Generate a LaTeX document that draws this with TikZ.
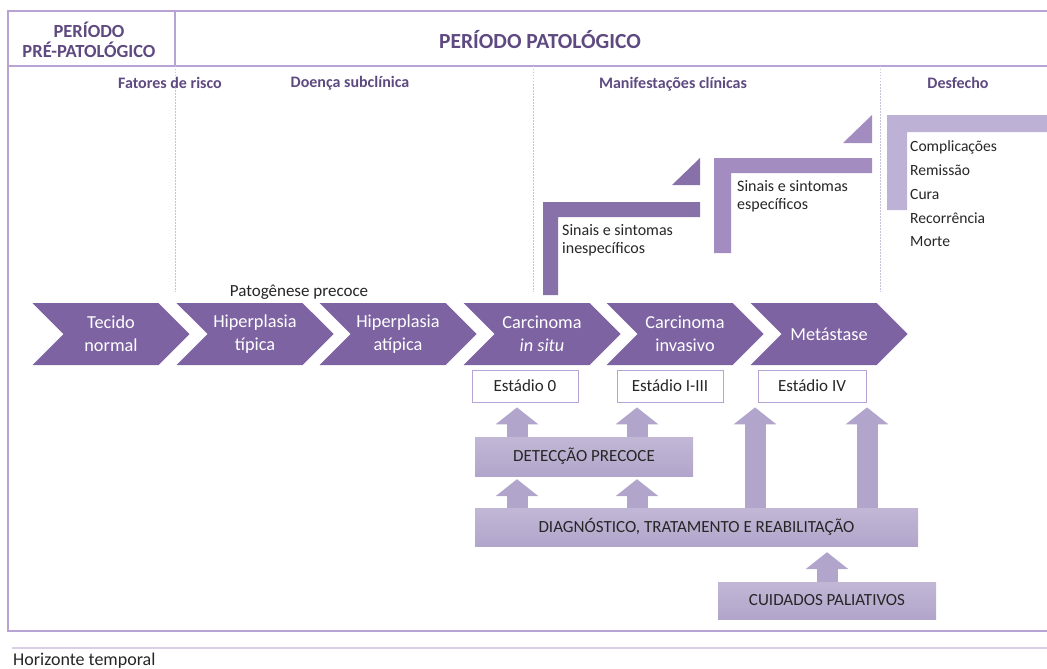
\documentclass[tikz,border=0pt]{standalone}
\usepackage{fontspec}
\setmainfont{Carlito}
\usetikzlibrary{arrows.meta,positioning,shapes.symbols}
\definecolor{PATline}{HTML}{B7A4D4}
\definecolor{PATpale}{HTML}{D9CFE6}
\definecolor{PATdot}{HTML}{C9C0D9}
\definecolor{PATtitle}{HTML}{5E4A80}
\definecolor{PATchev}{HTML}{7D63A2}
\definecolor{PATstepA}{HTML}{8870A9}
\definecolor{PATstepB}{HTML}{A28CC0}
\definecolor{PATstepC}{HTML}{BEB1D6}
\definecolor{PATblock}{HTML}{B2A5CB}
\definecolor{PATtext}{HTML}{262626}
\tikzset{patframe/.style={draw=PATline,line width=1.3pt},
 patdots/.style={draw=PATdot,line width=0.8pt,dash pattern=on 1.5pt off 1.5pt},
 pathead/.style={text=PATtitle,font=\bfseries\fontsize{18.5}{20.5}\selectfont,align=center},
 patsub/.style={text=PATtitle,font=\bfseries\fontsize{16}{19}\selectfont},
 patchev/.style={shape=signal,signal from=west,signal to=east,fill=PATchev,text=white,
  minimum width=157pt,minimum height=62pt,inner sep=0pt,align=center,
  font=\fontsize{18.3}{23}\selectfont},
 patstage/.style={draw=PATline,fill=white,line width=0.8pt,minimum width=106pt,
  minimum height=32pt,inner sep=0pt,font=\fontsize{17}{19}\selectfont,text=PATtext},
 patblock/.style={top color=PATblock!80!white,bottom color=PATblock,inner sep=0pt,
  font=\fontsize{17}{19}\selectfont,text=PATtext},
 patlabel/.style={text=PATtext,font=\fontsize{16}{18}\selectfont,align=left,inner sep=0pt},
 patup/.style={draw=PATblock,line width=21pt,-{Triangle[length=17pt,width=42pt]}}}

\begin{document}
\begin{tikzpicture}[x=1pt,y=-1pt]
\useasboundingbox (0,0) rectangle (1047,669);
\draw[patframe] (1047,11) -- (8,11) -- (8,631) -- (1047,631);
\draw[patframe] (8,66) -- (1047,66);
\draw[patframe] (175,11) -- (175,66);
\draw[patframe,draw=PATpale] (12,648) -- (1047,648);
\draw[patdots] (175,66) -- (175,292);
\draw[patdots] (533,66) -- (533,292);
\draw[patdots] (880,66) -- (880,292);

\node[pathead] (prepat) at (89,40) {PERÍODO\\PRÉ-PATOLÓGICO};
\node[pathead,font=\bfseries\fontsize{21.5}{24}\selectfont] (pat) at (540,40) {PERÍODO PATOLÓGICO};
\node[patsub] (risco) at (170,83) {Fatores de risco};
\node[patsub] (subcl) at (350,83) {Doença subclínica};
\node[patsub] (manif) at (673,84) {Manifestações clínicas};
\node[patsub] (desf) at (958,83) {Desfecho};

\fill[PATstepA] (543,202) -- (700,202) -- (700,217) -- (558,217) -- (558,295) -- (543,295) -- cycle;
\fill[PATstepA] (700,158) -- (700,185) -- (672,185) -- cycle;
\fill[PATstepB] (714,158) -- (872,158) -- (872,173) -- (731,173) -- (731,253) -- (714,253) -- cycle;
\fill[PATstepB] (872,115) -- (872,143) -- (843,143) -- cycle;
\fill[PATstepC] (887,115) -- (1047,115) -- (1047,132) -- (907,132) -- (907,210) -- (887,210) -- cycle;
\node[patlabel,anchor=west] (inesp) at (562,240) {Sinais e sintomas\\inespecíficos};
\node[patlabel,anchor=west] (espec) at (737,196) {Sinais e sintomas\\específicos};
\node[patlabel,anchor=west,font=\fontsize{15.6}{23.8}\selectfont] (desfl) at (910,194)
 {Complicações\\Remissão\\Cura\\Recorrência\\Morte};

\node[patlabel,font=\fontsize{17}{19}\selectfont] (patog) at (299,292) {Patogênese precoce};
\node[patchev] (tecido) at (111,334) {Tecido\\normal};
\node[patchev] (hiptip) at (255,334) {Hiperplasia\\típica};
\node[patchev] (hipatip) at (398,334) {Hiperplasia\\atípica};
\node[patchev] (insitu) at (542,334) {Carcinoma\\\textit{in situ}};
\node[patchev] (invas) at (685,334) {Carcinoma\\invasivo};
\node[patchev] (metas) at (829,334) {Metástase};

\node[patstage] (est0) at (525,386) {Estádio 0};
\node[patstage] (est13) at (670,386) {Estádio I-III};
\node[patstage,minimum width=108pt] (est4) at (812,386) {Estádio IV};

\node[patblock,minimum width=218pt,minimum height=39pt] (detec) at (584,456.5) {DETECÇÃO PRECOCE};
\node[patblock,minimum width=443pt,minimum height=38pt] (diagn) at (696.5,527)
 {DIAGNÓSTICO, TRATAMENTO E REABILITAÇÃO};
\node[patblock,minimum width=218pt,minimum height=37pt] (palia) at (827,600.5) {CUIDADOS PALIATIVOS};

\coordinate (colA) at (517,0);
\coordinate (colB) at (637,0);
\coordinate (colC) at (755,0);
\coordinate (colD) at (867,0);
\draw[patup,shorten >=5pt] (colA |- detec.north) -- (colA |- est0.south);
\draw[patup,shorten >=5pt] (colB |- detec.north) -- (colB |- est13.south);
\draw[patup,shorten >=3pt] (colA |- diagn.north) -- (colA |- detec.south);
\draw[patup,shorten >=3pt] (colB |- diagn.north) -- (colB |- detec.south);
\draw[patup,shorten >=5pt] (colC |- diagn.north) -- (colC |- est4.south);
\draw[patup,shorten >=5pt] (colD |- diagn.north) -- (colD |- est4.south);
\draw[patup,shorten >=6pt] (palia.north) -- (palia.north |- diagn.south);

\node[patlabel,anchor=west,font=\fontsize{18}{20}\selectfont] (horiz) at (13,661) {Horizonte temporal};
\end{tikzpicture}
\end{document}
